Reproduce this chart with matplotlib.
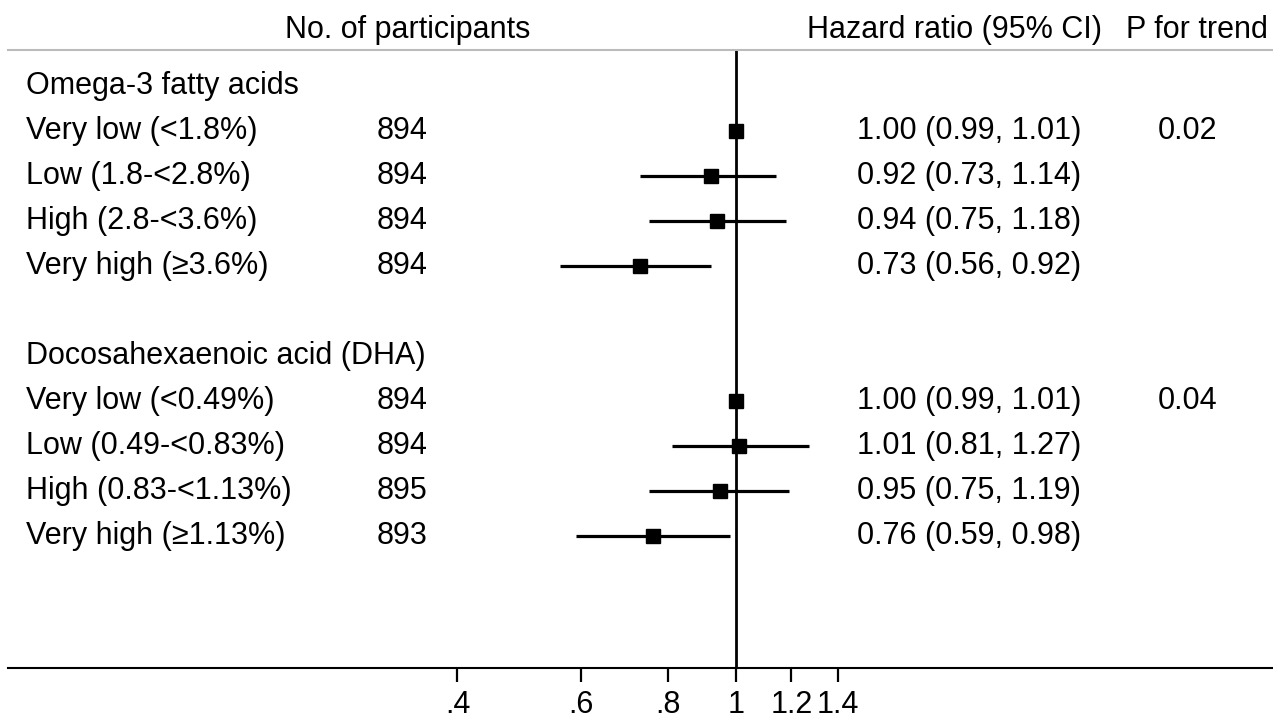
import matplotlib.pyplot as plt
from matplotlib.transforms import blended_transform_factory
import numpy as np

plt.rcParams['font.family'] = ['Liberation Sans', 'DejaVu Sans']

# Forest plot data
groups = ['Omega-3 fatty acids', 'Docosahexaenoic acid (DHA)']
labels = [
    ['Very low (<1.8%)', 'Low (1.8-<2.8%)', 'High (2.8-<3.6%)', 'Very high (≥3.6%)'],
    ['Very low (<0.49%)', 'Low (0.49-<0.83%)', 'High (0.83-<1.13%)', 'Very high (≥1.13%)'],
]
n_part = [[894, 894, 894, 894], [894, 894, 895, 893]]
hr = [[1.00, 0.92, 0.94, 0.73], [1.00, 1.01, 0.95, 0.76]]
lo = [[0.99, 0.73, 0.75, 0.56], [0.99, 0.81, 0.75, 0.59]]
hi = [[1.01, 1.14, 1.18, 0.92], [1.01, 1.27, 1.19, 0.98]]
p_trend = ['0.02', '0.04']
ticks = [0.4, 0.6, 0.8, 1.0, 1.2, 1.4]
tick_labels = ['.4', '.6', '.8', '1', '1.2', '1.4']

W, H = 1273, 718
fig = plt.figure(figsize=(W / 100, H / 100), dpi=100)
# axes from x=8..1273 px, y=50..668 px
ax = fig.add_axes([8 / W, 1 - 668 / H, 1 - 8 / W, (668 - 50) / H])
ax.set_xscale('log')
# 304 px per ln unit, x=1 at 736 px
ax.set_xlim(np.exp((8 - 736) / 304), np.exp((1273 - 736) / 304))
ax.set_ylim((668 - 86) / 45, (50 - 86) / 45)

tr = blended_transform_factory(fig.transFigure, ax.transData)
fs = 22

row = 0
for g in range(len(groups)):
    ax.text(26 / W, row, groups[g], transform=tr, fontsize=fs, va='center', ha='left')
    for i in range(len(labels[g])):
        y = row + 1 + i
        ax.plot([lo[g][i], hi[g][i]], [y, y], color='black', lw=2.3, solid_capstyle='butt', zorder=3)
        ax.plot(hr[g][i], y, marker='s', color='black', markersize=10.5, zorder=4)
        ax.text(26 / W, y, labels[g][i], transform=tr, fontsize=fs, va='center', ha='left')
        ax.text(427 / W, y, str(n_part[g][i]), transform=tr, fontsize=fs, va='center', ha='right')
        ax.text(857 / W, y, '%.2f (%.2f, %.2f)' % (hr[g][i], lo[g][i], hi[g][i]),
                transform=tr, fontsize=fs, va='center', ha='left')
        if i == 0:
            ax.text(1217 / W, y, p_trend[g], transform=tr, fontsize=fs, va='center', ha='right')
    row += len(labels[g]) + 2

ax.axvline(1, color='black', lw=2, zorder=2)

# column headers
hy = 1 - 30 / H
fig.text(408 / W, hy, 'No. of participants', fontsize=fs, ha='center', va='center')
fig.text(1102 / W, hy, 'Hazard ratio (95% CI)', fontsize=fs, ha='right', va='center')
fig.text(1268 / W, hy, 'P for trend', fontsize=fs, ha='right', va='center')

ax.set_xticks(ticks)
ax.set_xticklabels(tick_labels)
ax.minorticks_off()
ax.tick_params(axis='x', length=10, width=1.6, pad=6, labelsize=fs)
ax.set_yticks([])
for s in ['left', 'right']:
    ax.spines[s].set_visible(False)
ax.spines['top'].set_color('#bbbbbb')
ax.spines['top'].set_linewidth(1.5)
ax.spines['bottom'].set_linewidth(1.5)

fig.savefig('out.png', dpi=100)
